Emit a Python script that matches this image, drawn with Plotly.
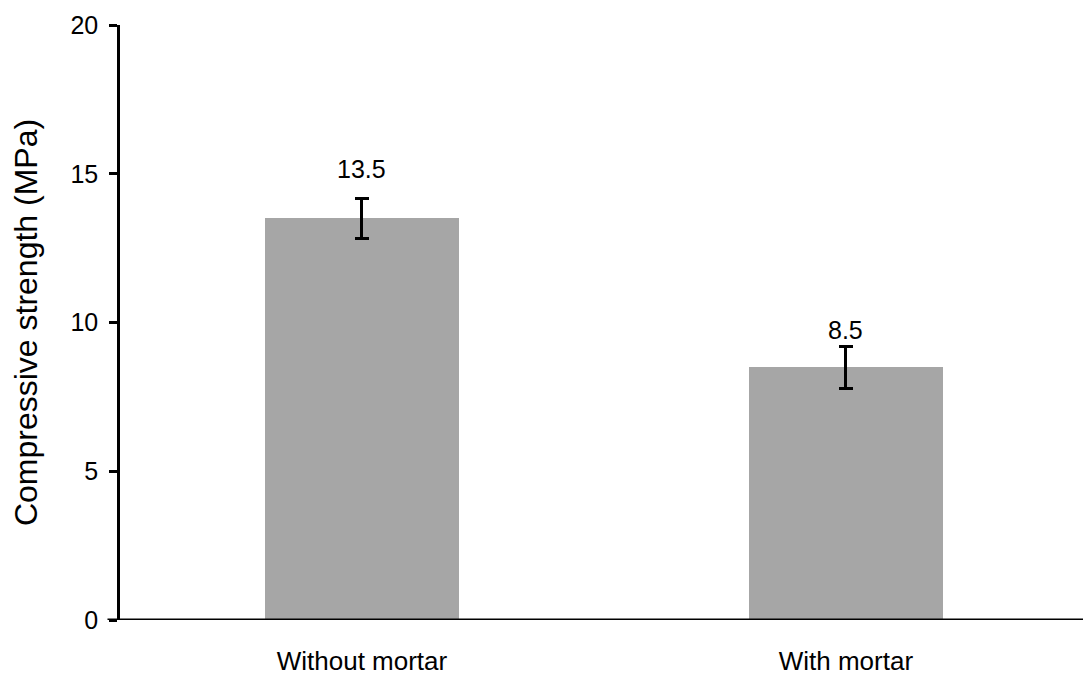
import plotly.graph_objects as go

categories = ["Without mortar", "With mortar"]
strength = [13.5, 8.5]
error = [0.67, 0.71]
labels = ["13.5", "8.5"]
y_ticks = [0, 5, 10, 15, 20]

FONT = "Liberation Sans, Arial, sans-serif"

fig = go.Figure()
fig.add_trace(go.Bar(
    x=categories, y=strength, width=0.40,
    marker=dict(color="#A6A6A6", line=dict(width=0)),
    error_y=dict(type="data", array=error, visible=True, color="black", thickness=3, width=7),
    showlegend=False, hoverinfo="skip",
))

shifts = [29, 16]
for c, v, e, t, s in zip(categories, strength, error, labels, shifts):
    fig.add_annotation(x=c, y=v + e, text=t, showarrow=False, yanchor="middle", yshift=s,
                       font=dict(family=FONT, size=25, color="black"))

fig.update_layout(
    width=1083, height=677,
    margin=dict(l=120, r=0, t=25, b=57, autoexpand=False),
    paper_bgcolor="white", plot_bgcolor="white",
    font=dict(family=FONT, color="black"),
    bargap=0,
)
fig.update_xaxes(
    range=[-0.5, 1.49], showgrid=False, zeroline=False, automargin=False,
    showline=False, ticks="outside", ticklen=18, tickcolor="rgba(0,0,0,0)",
    tickfont=dict(family=FONT, size=26, color="black"),
)
fig.update_yaxes(
    range=[0, 20], tickvals=y_ticks, showgrid=False, zeroline=False, automargin=False,
    showline=True, linecolor="black", linewidth=2.5,
    ticks="outside", ticklen=8, tickwidth=2.5, tickcolor="black",
    ticklabelstandoff=6,
    tickfont=dict(family=FONT, size=25, color="black"),
    title=dict(text="Compressive strength (MPa)", font=dict(family=FONT, size=32, color="black"), standoff=24),
)
# x axis baseline extending slightly left of the y axis to the right edge
fig.add_shape(type="line", xref="paper", yref="y", x0=-0.013, x1=1, y0=0, y1=0,
              line=dict(color="black", width=3))

fig.write_html("out.html", config={"displayModeBar": False},
               post_script="document.body.style.margin='0';document.body.style.overflow='hidden';")
